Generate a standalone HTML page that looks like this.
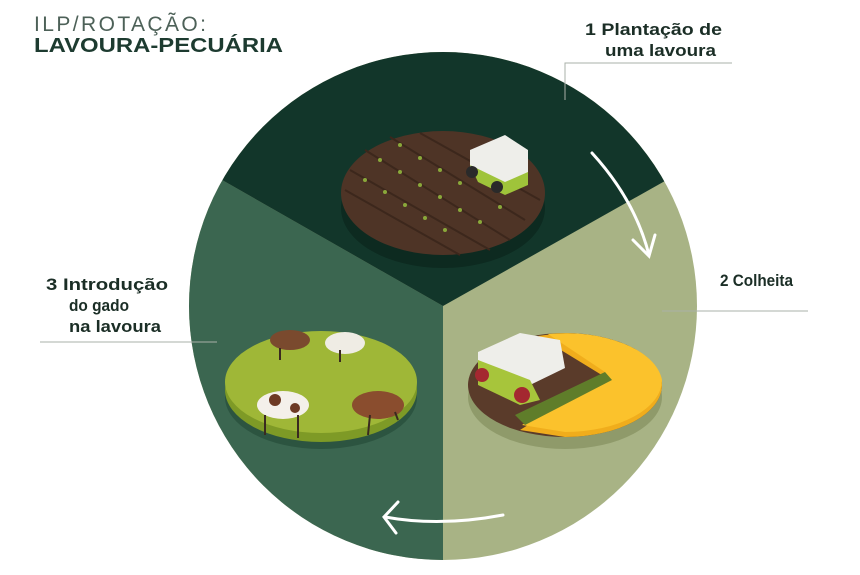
<!DOCTYPE html>
<html><head><meta charset="utf-8"><style>
body{margin:0;background:#fff;}
svg{display:block;font-family:"Liberation Sans",sans-serif;}
</style></head><body>
<svg width="860" height="575" viewBox="0 0 860 575" xmlns="http://www.w3.org/2000/svg">
<rect width="860" height="575" fill="#fff"/>
<defs><clipPath id="c"><circle cx="443" cy="306" r="254"/></clipPath></defs>
<g clip-path="url(#c)">
<rect x="180" y="40" width="540" height="530" fill="#a8b385"/>
<polygon points="443,306 443,570 180,570 180,156" fill="#3b6650"/>
<polygon points="443,306 180,156 180,40 720,40 720,150" fill="#12362a"/>
</g>
<ellipse cx="443" cy="208" rx="102" ry="60" fill="#0d2a20"/>
<ellipse cx="443" cy="193" rx="102" ry="62" fill="#4e3426"/>
<g stroke="#3c271c" stroke-width="2">
<line x1="365" y1="150" x2="510" y2="240"/><line x1="350" y1="170" x2="490" y2="250"/><line x1="345" y1="190" x2="460" y2="255"/><line x1="390" y1="137" x2="525" y2="220"/><line x1="420" y1="133" x2="540" y2="200"/>
</g>
<g fill="#8aa83a">
<circle cx="380" cy="160" r="2"/><circle cx="400" cy="172" r="2"/><circle cx="420" cy="185" r="2"/><circle cx="440" cy="197" r="2"/><circle cx="460" cy="210" r="2"/><circle cx="480" cy="222" r="2"/>
<circle cx="365" cy="180" r="2"/><circle cx="385" cy="192" r="2"/><circle cx="405" cy="205" r="2"/><circle cx="425" cy="218" r="2"/><circle cx="445" cy="230" r="2"/>
<circle cx="400" cy="145" r="2"/><circle cx="420" cy="158" r="2"/><circle cx="440" cy="170" r="2"/><circle cx="460" cy="183" r="2"/><circle cx="500" cy="207" r="2"/>
</g>
<polygon points="470,150 505,135 528,150 528,175 505,190 470,172" fill="#eeeeea"/>
<polygon points="470,165 505,182 528,172 528,185 505,195 478,182" fill="#9fc43a"/>
<circle cx="472" cy="172" r="6" fill="#2a2a2a"/><circle cx="497" cy="187" r="6" fill="#2a2a2a"/>
<ellipse cx="321" cy="397" rx="96" ry="52" fill="#2c5440"/>
<ellipse cx="321" cy="390" rx="96" ry="52" fill="#7e9a26"/>
<ellipse cx="321" cy="382" rx="96" ry="51" fill="#9fb737"/>
<g>
<ellipse cx="290" cy="340" rx="20" ry="10" fill="#7a4a2e"/><ellipse cx="345" cy="343" rx="20" ry="11" fill="#efece4"/>
<ellipse cx="283" cy="405" rx="26" ry="14" fill="#f4f0ea"/><circle cx="275" cy="400" r="6" fill="#6d3a24"/><circle cx="295" cy="408" r="5" fill="#6d3a24"/>
<ellipse cx="378" cy="405" rx="26" ry="14" fill="#8a4d2e"/>
<g stroke="#3a2a20" stroke-width="2"><line x1="265" y1="415" x2="265" y2="435"/><line x1="298" y1="415" x2="298" y2="438"/><line x1="370" y1="415" x2="368" y2="435"/><line x1="395" y1="412" x2="398" y2="420"/><line x1="280" y1="348" x2="280" y2="360"/><line x1="340" y1="350" x2="340" y2="362"/></g>
</g>
<ellipse cx="565" cy="397" rx="97" ry="52" fill="#8f9a6a"/>
<ellipse cx="565" cy="385" rx="97" ry="52" fill="#5a3b2a"/>
<path d="M538,336 A97,52 0 0 1 662,385 A97,52 0 0 1 565,437 L520,430 L605,377 Z" fill="#f0ad1c"/>
<path d="M548,334 A97,52 0 0 1 662,380 A97,52 0 0 1 565,432 L522,425 L605,372 Z" fill="#fbc22c"/>
<polygon points="478,352 520,333 560,340 565,368 530,385 478,370" fill="#eeeeea"/>
<polygon points="478,360 530,380 540,400 520,405 478,385" fill="#a7c53b"/>
<polygon points="515,415 605,372 612,380 525,425" fill="#5f7d2a"/>
<circle cx="482" cy="375" r="7" fill="#a42830"/><circle cx="522" cy="395" r="8" fill="#a42830"/>
<g stroke="#fff" stroke-width="3" fill="none" stroke-linecap="round">
<path d="M592,153 Q635,200 649,255"/><path d="M633,240 L649,256 L655,235"/>
<path d="M503,515 Q440,527 385,517"/><path d="M398,502 L384,517 L396,533"/>
</g>
<g stroke="#aab0a8" stroke-width="1" fill="none">
<path d="M565,100 L565,63 L732,63"/><line x1="662" y1="311" x2="808" y2="311"/><line x1="40" y1="342" x2="217" y2="342"/>
</g>
<text x="34" y="31" font-size="21" fill="#4d6158" textLength="172" lengthAdjust="spacing">ILP/ROTAÇÃO:</text>
<text x="34" y="52" font-size="20" font-weight="bold" fill="#1d3b30" textLength="249" lengthAdjust="spacingAndGlyphs">LAVOURA-PECUÁRIA</text>
<g font-size="17" font-weight="bold" fill="#1b2e26">
<text x="585" y="35" textLength="137" lengthAdjust="spacingAndGlyphs">1  Plantação de</text><text x="605" y="56" textLength="111" lengthAdjust="spacingAndGlyphs">uma lavoura</text>
<text x="720" y="286" textLength="73" lengthAdjust="spacingAndGlyphs">2  Colheita</text>
<text x="46" y="290" textLength="122" lengthAdjust="spacingAndGlyphs">3  Introdução</text><text x="69" y="311" textLength="60" lengthAdjust="spacingAndGlyphs">do gado</text><text x="69" y="332" textLength="92" lengthAdjust="spacingAndGlyphs">na lavoura</text>
</g>
</svg>
</body></html>
